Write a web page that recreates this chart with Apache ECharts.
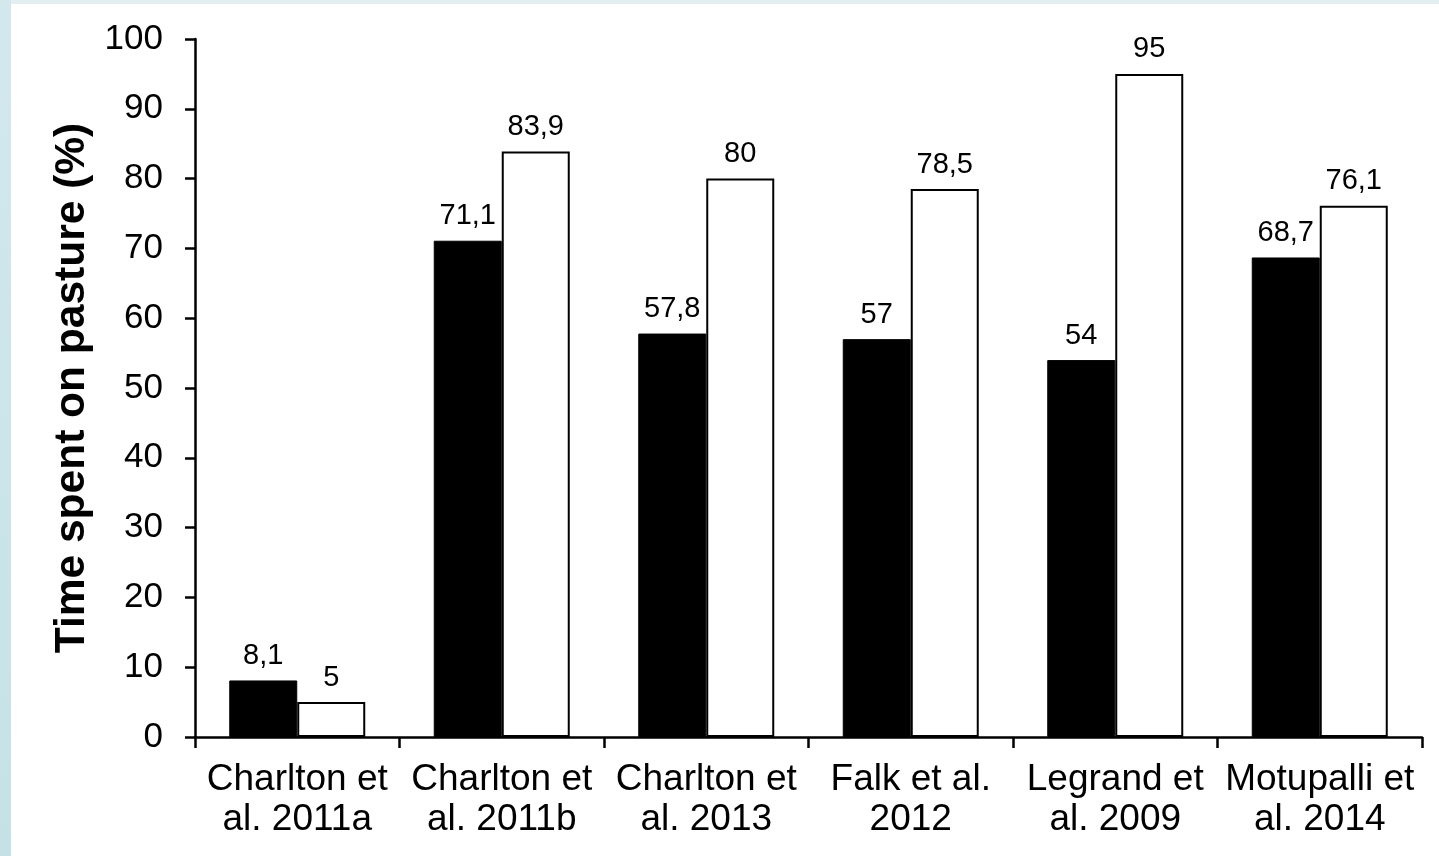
<!DOCTYPE html>
<html>
<head>
<meta charset="utf-8">
<script src="https://cdn.jsdelivr.net/npm/echarts@6/dist/echarts.min.js"></script>
<style>
  html, body { margin: 0; padding: 0; background: #ffffff; }
  #chart { width: 1439px; height: 856px; }
</style>
</head>
<body>
<div id="chart"></div>
<script>
// Studies compared
const categories = [
  'Charlton et\nal. 2011a',
  'Charlton et\nal. 2011b',
  'Charlton et\nal. 2013',
  'Falk et al.\n2012',
  'Legrand et\nal. 2009',
  'Motupalli et\nal. 2014'
];
// Time spent on pasture (%), first and second condition per study
const darkValues = [8.1, 71.1, 57.8, 57, 54, 68.7];
const lightValues = [5, 83.9, 80, 78.5, 95, 76.1];
// Value axis range
const yMin = 0;
const yMax = 100;
const yStep = 10;

const FONT = '"Liberation Sans", Arial, sans-serif';
const commaFormat = p => String(p.value).replace('.', ',');

const chart = echarts.init(document.getElementById('chart'), null, { renderer: 'canvas' });

const labelStyle = {
  show: true,
  position: 'top',
  distance: 10,
  color: '#000',
  fontSize: 29,
  fontFamily: FONT,
  formatter: commaFormat
};

chart.setOption({
  animation: false,
  backgroundColor: '#ffffff',
  graphic: [
    {
      type: 'rect',
      shape: { x: 0, y: 0, width: 1439, height: 4 },
      style: { fill: '#e2eef0' },
      silent: true
    },
    {
      type: 'rect',
      shape: { x: 0, y: 0, width: 11, height: 856 },
      style: {
        fill: new echarts.graphic.LinearGradient(0, 0, 0, 1, [
          { offset: 0, color: '#d3e8ec' },
          { offset: 1, color: '#c4e2e6' }
        ])
      },
      silent: true
    }
  ],
  grid: { left: 195, right: 17, top: 39, bottom: 119, containLabel: false },
  xAxis: {
    type: 'category',
    data: categories,
    boundaryGap: true,
    axisLine: { show: true, lineStyle: { color: '#000', width: 2.5 } },
    axisTick: { show: true, length: 11, lineStyle: { color: '#000', width: 2.5 }, alignWithLabel: false },
    axisLabel: {
      color: '#000',
      fontSize: 37,
      lineHeight: 40,
      fontFamily: FONT,
      margin: 23,
      interval: 0
    },
    splitLine: { show: false }
  },
  yAxis: {
    type: 'value',
    min: yMin,
    max: yMax,
    interval: yStep,
    name: 'Time spent on pasture (%)',
    nameLocation: 'middle',
    nameGap: 101,
    nameRotate: 90,
    nameTextStyle: { color: '#000', fontSize: 42.5, fontWeight: 'bold', fontFamily: FONT },
    axisLine: { show: true, lineStyle: { color: '#000', width: 2.5 } },
    axisTick: { show: true, length: 10, lineStyle: { color: '#000', width: 2.5 } },
    axisLabel: { color: '#000', fontSize: 35, fontFamily: FONT, margin: 32 },
    splitLine: { show: false }
  },
  series: [
    {
      type: 'bar',
      data: darkValues,
      barGap: '0%',
      barCategoryGap: '33.5%',
      itemStyle: { color: '#000', borderColor: '#000', borderWidth: 1 },
      label: labelStyle
    },
    {
      type: 'bar',
      data: lightValues,
      itemStyle: { color: '#fff', borderColor: '#000', borderWidth: 2 },
      label: labelStyle
    }
  ]
});
</script>
</body>
</html>
